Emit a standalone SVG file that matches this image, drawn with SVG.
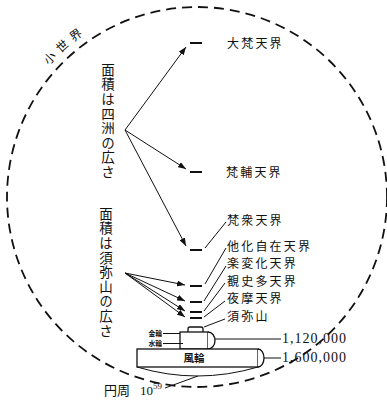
<svg xmlns="http://www.w3.org/2000/svg" width="387" height="405" viewBox="0 0 387 405">
  <style>
    .jp { font-family: "Noto Sans CJK JP", "Noto Sans", sans-serif; fill: #111; }
    .lbl { font-size: 12px; letter-spacing: 2.2px; }
    .vert { font-size: 13.5px; writing-mode: vertical-rl; letter-spacing: 1.1px; }
    .num { font-family: "Liberation Serif", serif; font-size: 14px; letter-spacing: 1px; fill: #111; }
    .ln { stroke: #111; stroke-width: 1; fill: none; }
    .arw { stroke: #111; stroke-width: 1; fill: none; marker-end: url(#head); }
    .lvl { stroke: #111; stroke-width: 2; }
    .box { stroke: #111; stroke-width: 1.3; fill: #fff; }
    .tiny { font-size: 6.8px; font-weight: bold; }
  </style>
  <defs>
    <marker id="head" markerUnits="userSpaceOnUse" markerWidth="9" markerHeight="6" refX="8" refY="3" orient="auto">
      <path d="M0,0 L8,3 L0,6 z" fill="#111"/>
    </marker>
    <path id="worldArc" d="M25.5,98 A198,198 0 0 1 129.3,10.9"/>
  </defs>

  <!-- the small world: dashed boundary circle -->
  <g id="small-world">
    <circle cx="197" cy="197" r="190" fill="none" stroke="#111" stroke-width="1.8" stroke-dasharray="10 6"/>
    <text class="jp" font-size="12" letter-spacing="5"><textPath href="#worldArc" startOffset="40">小世界</textPath></text>
  </g>

  <!-- area notes, written top to bottom -->
  <g id="note-four-continents">
    <text class="jp vert" x="108" y="63">面積は四洲の広さ</text>
  </g>
  <g id="note-sumeru">
    <text class="jp vert" x="106" y="207">面積は須弥山の広さ</text>
  </g>

  <!-- heavens: level marks and names -->
  <g id="daibonten">
    <line class="lvl" x1="190" y1="43" x2="202" y2="43"/>
    <text class="jp lbl" x="227" y="47.5">大梵天界</text>
  </g>
  <g id="bonhoten">
    <line class="lvl" x1="190" y1="172" x2="202" y2="172"/>
    <text class="jp lbl" x="226" y="176.5">梵輔天界</text>
  </g>
  <g id="bonshuten">
    <line class="lvl" x1="190" y1="250" x2="202" y2="250"/>
    <text class="jp lbl" x="227" y="225">梵衆天界</text>
  </g>
  <g id="takejizaiten">
    <line class="lvl" x1="190" y1="286" x2="202" y2="286"/>
    <text class="jp lbl" x="227" y="250.5">他化自在天界</text>
  </g>
  <g id="rakuhengeten">
    <line class="lvl" x1="190" y1="302" x2="202" y2="302"/>
    <text class="jp lbl" x="227" y="268">楽変化天界</text>
  </g>
  <g id="tosotsuten">
    <line class="lvl" x1="190" y1="312" x2="202" y2="312"/>
    <text class="jp lbl" x="227" y="285.5">覩史多天界</text>
  </g>
  <g id="yamaten">
    <line class="lvl" x1="190" y1="318" x2="202" y2="318"/>
    <text class="jp lbl" x="227" y="303">夜摩天界</text>
  </g>
  <g id="sumeru">
    <path class="box" d="M188,332 L188,329 Q188,327 190,327 L201,327 Q203,327 203,329 L203,332"/>
    <text class="jp lbl" x="227" y="320.5">須弥山</text>
  </g>

  <!-- golden and water discs -->
  <g id="golden-disc">
    <rect class="box" x="180" y="332" width="28" height="17"/>
    <path class="box" d="M208,332 A7,8.5 0 0 1 208,349"/>
    <text class="jp tiny" x="162" y="336" text-anchor="end">金輪</text>
    <text class="jp tiny" x="162" y="346" text-anchor="end">水輪</text>
    <text class="num" x="282" y="343">1,120,000</text>
  </g>

  <!-- wind disc -->
  <g id="wind-disc">
    <rect class="box" x="137" y="349" width="121" height="18"/>
    <path class="box" d="M258,349 A6,9 0 0 1 258,367"/>
    <path class="ln" d="M137,367 Q197,385 258,367"/>
    <text class="jp" font-size="10.5" font-weight="bold" x="194" y="362" text-anchor="middle">風輪</text>
    <text class="num" x="282" y="362">1,600,000</text>
  </g>

  <g id="circumference">
    <text class="jp" font-size="13" x="104" y="395">円周</text>
    <text font-family="Liberation Serif, serif" font-size="13" fill="#111" x="140" y="395">10<tspan font-size="9" dy="-6">59</tspan></text>
  </g>

  <!-- connectors -->
  <g id="connectors">
    <line class="arw" x1="125" y1="130" x2="186" y2="47"/>
    <line class="arw" x1="125" y1="130" x2="186" y2="169"/>
    <line class="arw" x1="125" y1="130" x2="186" y2="246"/>
    <line class="arw" x1="125" y1="273" x2="185" y2="285"/>
    <line class="arw" x1="125" y1="273" x2="185" y2="301"/>
    <line class="arw" x1="125" y1="273" x2="185" y2="311"/>
    <line class="arw" x1="125" y1="273" x2="185" y2="317"/>
    <line class="ln" x1="205" y1="248" x2="226" y2="222"/>
    <line class="ln" x1="205" y1="284" x2="226" y2="248"/>
    <line class="ln" x1="204" y1="301" x2="226" y2="266"/>
    <line class="ln" x1="204" y1="311" x2="225" y2="283"/>
    <line class="ln" x1="204" y1="317" x2="225" y2="301"/>
    <line class="ln" x1="204" y1="327" x2="225" y2="319"/>
    <line class="ln" x1="163" y1="333.5" x2="180" y2="333.5"/>
    <line class="ln" x1="163" y1="343.5" x2="183" y2="343.5"/>
    <line class="ln" x1="215" y1="339" x2="281" y2="339"/>
    <line class="ln" x1="264" y1="358" x2="281" y2="358"/>
    <line class="ln" x1="165" y1="388" x2="198" y2="376"/>
  </g>
</svg>
